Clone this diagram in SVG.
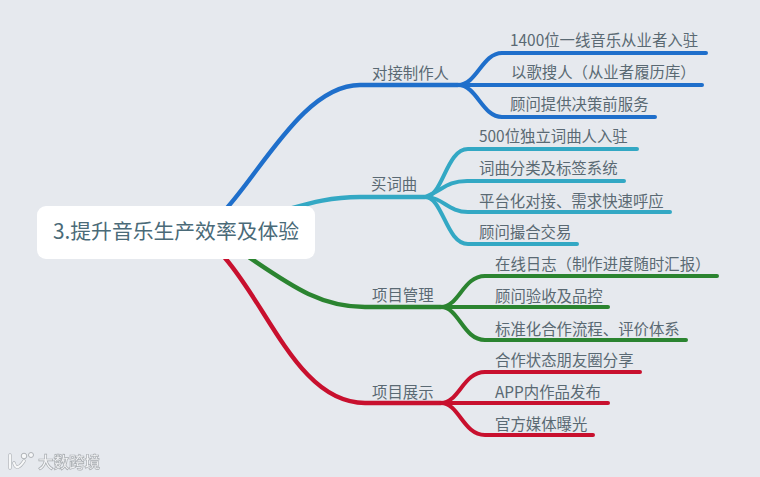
<svg xmlns="http://www.w3.org/2000/svg" width="760" height="477" viewBox="0 0 760 477">
<style>
text{font-family:"Noto Sans CJK SC","Noto Sans",sans-serif;fill:#5a6973;font-size:15.4px;font-weight:400}
.c{fill:none;stroke-linecap:round;stroke-linejoin:round}
.m{stroke-width:4.4}
.s{stroke-width:4}
.b{stroke:#1f6fcb}.t{stroke:#33a8c4}.g{stroke:#2b8430}.r{stroke:#c8102e}
.wm{fill:#f3f4f6;font-size:15.5px;font-weight:700;stroke:#a9adb1;stroke-width:.7}
.lg{fill:none;stroke:#f7f8f9;stroke-width:2.2;stroke-linecap:round}
.lo{fill:none;stroke:#aeb2b6;stroke-width:3.4;stroke-linecap:round}
</style>
<defs><filter id="soft"><feGaussianBlur stdDeviation=".35"/></filter></defs>
<rect width="760" height="477" fill="#e6e9ee"/>
<g id="connectors">
<path class="c m b" d="M225 210C262 170 305 85 360 85H458"/>
<path class="c s b" d="M458 85C477 85 482 53 502 53H706"/>
<path class="c s b" d="M458 85H702"/>
<path class="c s b" d="M458 85C477 85 482 117 502 117H655"/>
<path class="c m t" d="M285 210C310 203 330 197 360 197H425"/>
<path class="c s t" d="M425 197C443 197 446 149 468 149H637"/>
<path class="c s t" d="M425 197C443 190 447 181 467 181H624"/>
<path class="c s t" d="M425 197C443 197 448 212 468 212H670"/>
<path class="c s t" d="M425 197C443 197 446 244 468 244H577"/>
<path class="c m g" d="M250 258C290 285 320 307 365 307H441"/>
<path class="c s g" d="M441 307C459 307 463 276 485 276H717"/>
<path class="c s g" d="M441 307H608"/>
<path class="c s g" d="M441 307C459 307 463 340 485 340H686"/>
<path class="c m r" d="M225 258C270 310 300 403 365 403H441"/>
<path class="c s r" d="M441 403C459 403 463 372 485 372H640"/>
<path class="c s r" d="M441 403H608"/>
<path class="c s r" d="M441 403C459 403 463 435 485 435H593"/>
</g>
<g id="root"><rect x="37" y="206" width="278" height="53" rx="9" fill="#fff"/><text x="53" y="239" style="font-size:20.8px;fill:#4a6a78">3.提升音乐生产效率及体验</text></g>
<g id="n1"><text x="372" y="79">对接制作人</text></g>
<g id="n11"><text x="510" y="46">1400位一线音乐从业者入驻</text></g>
<g id="n12"><text x="511" y="78">以歌搜人（从业者履历库）</text></g>
<g id="n13"><text x="510" y="110">顾问提供决策前服务</text></g>
<g id="n2"><text x="371" y="190">买词曲</text></g>
<g id="n21"><text x="479" y="142">500位独立词曲人入驻</text></g>
<g id="n22"><text x="479" y="174">词曲分类及标签系统</text></g>
<g id="n23"><text x="479" y="207">平台化对接、需求快速呼应</text></g>
<g id="n24"><text x="479" y="238">顾问撮合交易</text></g>
<g id="n3"><text x="372" y="301">项目管理</text></g>
<g id="n31"><text x="495" y="270">在线日志（制作进度随时汇报）</text></g>
<g id="n32"><text x="495" y="302">顾问验收及品控</text></g>
<g id="n33"><text x="495" y="335">标准化合作流程、评价体系</text></g>
<g id="n4"><text x="372" y="398">项目展示</text></g>
<g id="n41"><text x="495" y="366">合作状态朋友圈分享</text></g>
<g id="n42"><text x="495" y="398">APP内作品发布</text></g>
<g id="n43"><text x="495" y="430">官方媒体曝光</text></g>
<g id="watermark" filter="url(#soft)">
<path class="lo" d="M10 455V468M24 461C20 467 16 470 14 463"/>
<path class="lg" d="M10 455V468M24 461C20 467 16 470 14 463"/>
<circle cx="24" cy="456" r="2.8" fill="#f7f8f9" stroke="#aeb2b6"/>
<circle cx="31" cy="455" r="2.5" fill="#f7f8f9" stroke="#aeb2b6"/>
<text class="wm" x="38" y="468">大数跨境</text>
</g>
</svg>
